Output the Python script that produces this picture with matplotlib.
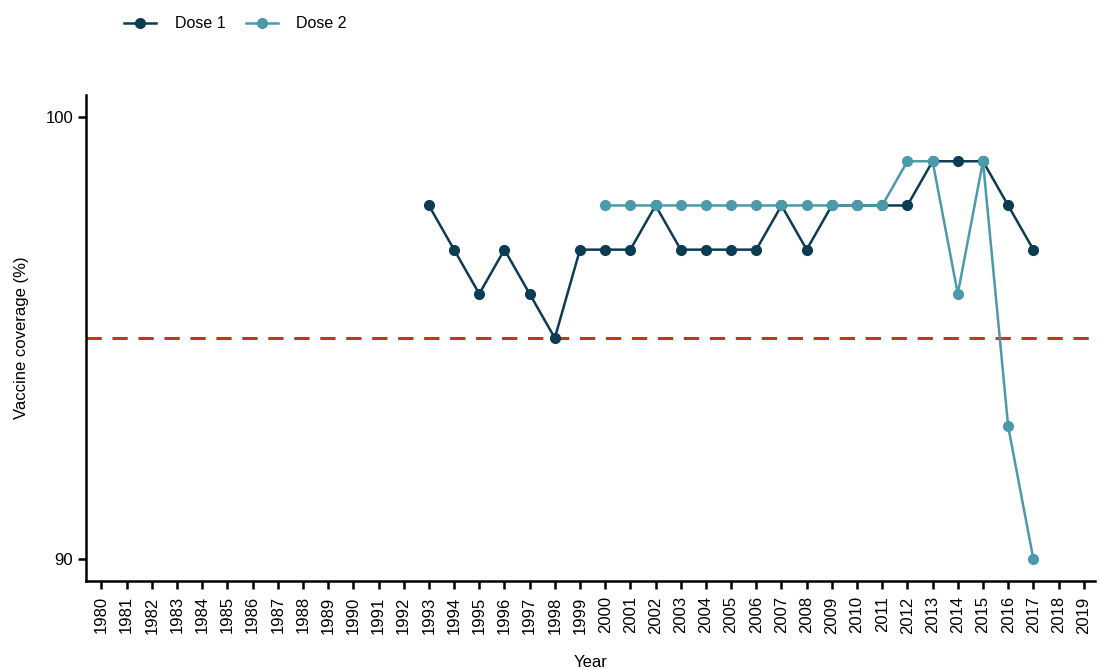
import numpy as np
import matplotlib
matplotlib.use("Agg")
from matplotlib import pyplot as plt

plt.rcParams['font.family'] = ['Liberation Sans', 'DejaVu Sans']

# data
years1 = list(range(1993, 2018))
dose1 = [98, 97, 96, 97, 96, 95, 97, 97, 97, 98, 97, 97, 97, 97, 98, 97, 98, 98, 98, 98,
         99, 99, 99, 98, 97]
years2 = list(range(2000, 2018))
dose2 = [98, 98, 98, 98, 98, 98, 98, 98, 98, 98, 98, 98, 99, 99, 96, 99, 93, 90]
target = 95
tick_years = list(range(1980, 2020))

c1 = '#0b3c52'
c2 = '#4a9aab'
cred = '#c0391f'

fig = plt.figure(figsize=(11, 6.69), dpi=100)
ax = fig.add_axes([0.0785, 0.1315, 0.917, 0.7265])

ax.axhline(target, color=cred, lw=2.2, ls=(0, (5, 3.5)), zorder=1)
ax.plot(years1, dose1, color=c1, lw=1.8, marker='o', ms=7, label='Dose 1', zorder=2)
ax.plot(years2, dose2, color=c2, lw=1.8, marker='o', ms=7, label='Dose 2', zorder=3)

ax.set_xlim(1979.4, 2019.45)
ax.set_ylim(89.5, 100.5)
ax.set_yticks([90, 100])
ax.set_xticks(tick_years)
ax.set_xticklabels([str(y) for y in tick_years], rotation=90)

for s in ['top', 'right']:
    ax.spines[s].set_visible(False)
for s in ['left', 'bottom']:
    ax.spines[s].set_linewidth(1.8)
ax.tick_params(axis='both', direction='out', length=6, width=1.8, labelsize=12, colors='black')
ax.tick_params(axis='x', pad=5)

ax.set_xlabel('Year', fontsize=12, labelpad=15)
ax.set_ylabel('Vaccine coverage (%)', fontsize=12, labelpad=12)

fig.legend(loc='upper left', bbox_to_anchor=(0.1, 0.997), ncol=2, frameon=False,
           fontsize=11.5, handlelength=2.0, handletextpad=1.15, columnspacing=1.3)

fig.savefig('out.png', dpi=100)
